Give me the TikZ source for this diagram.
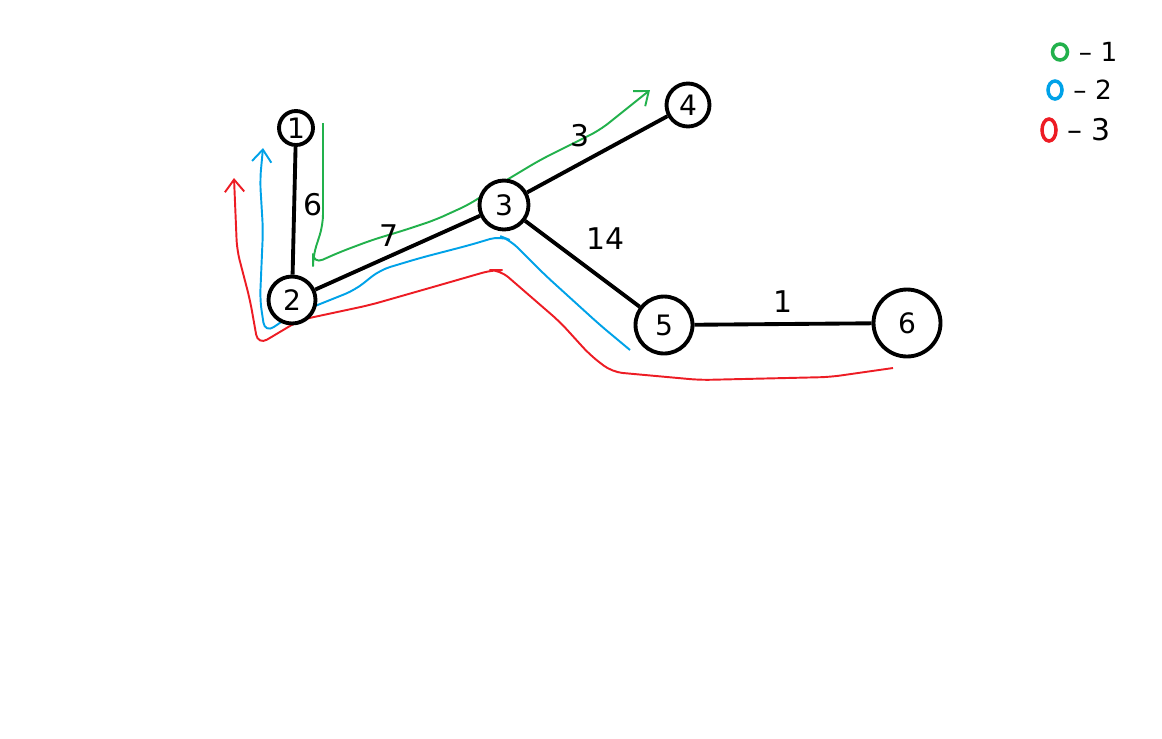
\documentclass[tikz,border=0pt]{standalone}
\usepackage{fontspec}
\setmainfont{DejaVu Sans}
\usetikzlibrary{arrows.meta, positioning, shapes.geometric}
\definecolor{pathgreen}{RGB}{34,177,76}
\definecolor{pathblue}{RGB}{0,162,232}
\definecolor{pathred}{RGB}{237,28,36}
\tikzset{
  vert/.style = {circle, draw=black, line width=2.2pt, fill=white, inner sep=0pt,
                 font=\fontsize{16}{19}\selectfont},
  edge/.style = {line width=2.2pt, draw=black},
  wlabel/.style = {font=\fontsize{17}{20}\selectfont},
  route/.style = {line width=1.1pt, rounded corners=6pt,
                  -{Straight Barb[length=7pt,width=11pt]}},
  keyring/.style = {draw, line width=2pt, ellipse, minimum width=0.3cm,
                    minimum height=0.32cm, inner sep=0pt}
}
\begin{document}
\begin{tikzpicture}[x=0.02cm, y=-0.02cm]
\useasboundingbox (0,0) rectangle (1162,738);

% colored routes (drawn first, under the graph)
\draw[route, pathgreen] (323,123) -- (323,225) -- (313,256) -- (313,264) -- (340,252)
  -- (372,240) -- (405,230) -- (435,220) -- (470,204) -- (500,184) -- (540,160)
  -- (600,130) -- (650,90);
\draw[route, pathblue] (630,350) -- (600,325) -- (545,275) -- (510,240) -- (500,236)
  -- (470,245) -- (420,258) -- (380,270) -- (355,290) -- (320,304) -- (290,316)
  -- (265,333) -- (260,300) -- (263,230) -- (260,180) -- (263,148);
\draw[route, pathred] (893,368) -- (830,377) -- (700,380) -- (612,372) -- (590,355)
  -- (560,322) -- (500,270) -- (492,270) -- (440,285) -- (370,305) -- (300,320)
  -- (258,345) -- (250,300) -- (237,250) -- (234,178);

% vertices
\node[vert, minimum size=0.68cm] (v1) at (296,128) {1};
\node[vert, minimum size=0.94cm] (v2) at (292,300) {2};
\node[vert, minimum size=0.98cm] (v3) at (504,205) {3};
\node[vert, minimum size=0.86cm] (v4) at (688,105) {4};
\node[vert, minimum size=1.14cm] (v5) at (664,325) {5};
\node[vert, minimum size=1.34cm] (v6) at (907,323) {6};

% weighted edges
\draw[edge] (v1) -- node[wlabel, right=1pt, pos=0.45] {6} (v2);
\draw[edge] (v2) -- node[wlabel, above=1pt, pos=0.45] {7} (v3);
\draw[edge] (v3) -- node[wlabel, above left=0pt, pos=0.5] {3} (v4);
\draw[edge] (v3) -- node[wlabel, above right=2pt, pos=0.45] {14} (v5);
\draw[edge] (v5) -- node[wlabel, above=2pt] {1} (v6);

% legend
\node[keyring, pathgreen] (k1) at (1060,52) {};
\node[keyring, pathblue, minimum width=0.28cm, minimum height=0.36cm] (k2) at (1055,90) {};
\node[keyring, pathred, minimum width=0.28cm, minimum height=0.44cm] (k3) at (1049,130) {};
\node[right=2pt of k1, font=\fontsize{15}{18}\selectfont] (t1) {-- 1};
\node[right=2pt of k2, font=\fontsize{15}{18}\selectfont] (t2) {-- 2};
\node[right=2pt of k3, font=\fontsize{17}{20}\selectfont] (t3) {-- 3};
\end{tikzpicture}
\end{document}
